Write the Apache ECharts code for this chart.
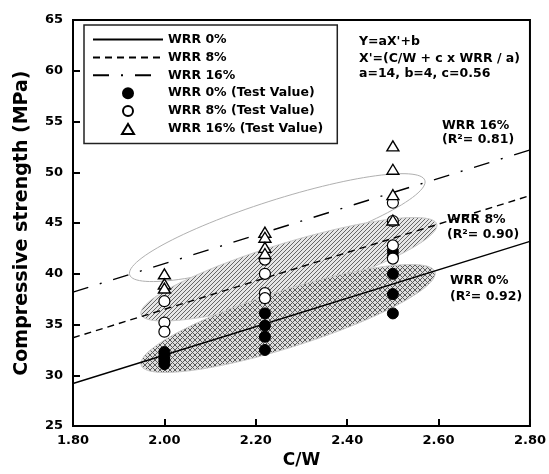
<!DOCTYPE html>
<html>
<head>
<meta charset="utf-8">
<script src="https://cdn.jsdelivr.net/npm/echarts@6/dist/echarts.min.js"></script>
<style>
html,body{margin:0;padding:0;background:#fff;}
#chart{width:549px;height:474px;}
</style>
</head>
<body>
<div id="chart"></div>
<script>
// ---- data ----
const xTicks = [1.8, 2.0, 2.2, 2.4, 2.6, 2.8];
const yTicks = [25, 30, 35, 40, 45, 50, 55, 60, 65];

// regression lines (endpoints at C/W = 1.80 and 2.80)
const lineWRR0  = [[1.8, 29.2], [2.8, 43.2]];
const lineWRR8  = [[1.8, 33.7], [2.8, 47.7]];
const lineWRR16 = [[1.8, 38.2], [2.8, 52.2]];

// test values
const testWRR0 = [
  [2.0, 32.3], [2.0, 31.9], [2.0, 31.5], [2.0, 31.1],
  [2.22, 36.1], [2.22, 34.9], [2.22, 33.8], [2.22, 32.5],
  [2.5, 42.2], [2.5, 41.7], [2.5, 40.0], [2.5, 38.0], [2.5, 36.1]
];
const testWRR8 = [
  [2.0, 37.3], [2.0, 35.2], [2.0, 34.3],
  [2.22, 41.4], [2.22, 40.0], [2.22, 38.1], [2.22, 37.6],
  [2.5, 47.0], [2.5, 45.2], [2.5, 42.8], [2.5, 41.5]
];
const testWRR16 = [
  [2.0, 40.0], [2.0, 39.0], [2.0, 38.6],
  [2.22, 44.1], [2.22, 43.6], [2.22, 42.6], [2.22, 42.0],
  [2.5, 52.6], [2.5, 50.3], [2.5, 47.8], [2.5, 45.3]
];

// scatter-band ellipses: [x1, y1, x2, y2, halfWidth(MPa)]
const ellipseWRR16 = [[1.924, 39.9, 2.570, 49.2, 2.7]];
const ellipseWRR8  = [[1.949, 36.0, 2.596, 44.9, 2.6]];
const ellipseWRR0  = [[1.949, 31.0, 2.592, 40.2, 2.8]];

const seriesNames = ['WRR 0%', 'WRR 8%', 'WRR 16%',
  'WRR 0% (Test Value)', 'WRR 8% (Test Value)', 'WRR 16% (Test Value)'];

// ---- patterns ----
function crossPattern() {
  const s = 5, c = document.createElement('canvas');
  c.width = s; c.height = s;
  const g = c.getContext('2d');
  g.fillStyle = '#dedede'; g.fillRect(0, 0, s, s);
  g.strokeStyle = '#5a5a5a'; g.lineWidth = 1;
  g.beginPath();
  g.moveTo(-1, -1); g.lineTo(s + 1, s + 1);
  g.moveTo(-1, s + 1); g.lineTo(s + 1, -1);
  g.stroke();
  return c;
}
function hatchPattern() {
  const s = 4, c = document.createElement('canvas');
  c.width = s; c.height = s;
  const g = c.getContext('2d');
  g.fillStyle = '#e6e6e6'; g.fillRect(0, 0, s, s);
  g.strokeStyle = '#666'; g.lineWidth = 1;
  g.beginPath();
  g.moveTo(-1, s + 1); g.lineTo(s + 1, -1);
  g.moveTo(-1, 1); g.lineTo(1, -1);
  g.moveTo(s - 1, s + 1); g.lineTo(s + 1, s - 1);
  g.stroke();
  return c;
}

function ellipseRenderer(fill, stroke) {
  return function (params, api) {
    const p1 = api.coord([api.value(0), api.value(1)]);
    const p2 = api.coord([api.value(2), api.value(3)]);
    const hw = api.size([0, api.value(4)])[1];
    const cx = (p1[0] + p2[0]) / 2, cy = (p1[1] + p2[1]) / 2;
    const dx = p2[0] - p1[0], dy = p2[1] - p1[1];
    const a = Math.hypot(dx, dy) / 2, th = Math.atan2(dy, dx);
    const pts = [];
    for (let i = 0; i < 120; i++) {
      const t = i / 120 * Math.PI * 2;
      const ex = a * Math.cos(t), ey = hw * Math.sin(t);
      pts.push([cx + ex * Math.cos(th) - ey * Math.sin(th),
                cy + ex * Math.sin(th) + ey * Math.cos(th)]);
    }
    return {
      type: 'polygon',
      shape: { points: pts },
      style: { fill: fill, stroke: stroke, lineWidth: 1 }
    };
  };
}

const FONT = 'DejaVu Sans';
const TRI = 'path://M0,10L6,0L12,10Z';
const chart = echarts.init(document.getElementById('chart'), null, { renderer: 'canvas' });

const annots = [
  ['Y=aX\'+b', 359, 43],
  ['X\'=(C/W + c x WRR / a)', 359, 60],
  ['a=14, b=4, c=0.56', 359, 75],
  ['WRR 16%', 442, 127],
  ['(R\u00B2= 0.81)', 442, 141],
  ['WRR 8%', 447, 221],
  ['(R\u00B2= 0.90)', 447, 236],
  ['WRR 0%', 450, 282],
  ['(R\u00B2= 0.92)', 450, 298]
];

const option = {
  animation: false,
  backgroundColor: '#fff',
  grid: { left: 73, right: 15, top: 20, bottom: 42, show: true, borderColor: '#000', borderWidth: 2 },
  legend: {
    orient: 'vertical', left: 84, top: 25,
    data: seriesNames.map((n, i) => i < 3
      ? { name: n, itemStyle: { opacity: 0 } }
      : { name: n }),
    itemWidth: 70, itemHeight: 10, itemGap: 4.9,
    symbolKeepAspect: true,
    padding: [8, 14, 8, 8],
    borderColor: '#222', borderWidth: 1.5,
    textStyle: { fontFamily: FONT, fontWeight: 'bold', fontSize: 12.5, color: '#000' },
    selectedMode: false
  },
  xAxis: {
    type: 'value', min: 1.8, max: 2.8, interval: 0.2,
    name: 'C/W', nameLocation: 'middle', nameGap: 24,
    nameTextStyle: { fontFamily: FONT, fontWeight: 'bold', fontSize: 17, color: '#000' },
    axisLine: { lineStyle: { color: '#000', width: 2 } },
    axisTick: { inside: true, length: 7, lineStyle: { color: '#000', width: 2 } },
    axisLabel: {
      fontFamily: FONT, fontWeight: 'bold', fontSize: 13, color: '#000', margin: 8,
      formatter: v => xTicks.some(t => Math.abs(t - v) < 1e-6) ? v.toFixed(2) : ''
    },
    splitLine: { show: false }
  },
  yAxis: {
    type: 'value', min: 25, max: 65, interval: 5,
    name: 'Compressive strength (MPa)', nameLocation: 'middle', nameGap: 41,
    nameTextStyle: { fontFamily: FONT, fontWeight: 'bold', fontSize: 19, color: '#000' },
    axisLine: { lineStyle: { color: '#000', width: 2 } },
    axisTick: { inside: true, length: 7, lineStyle: { color: '#000', width: 2 } },
    axisLabel: {
      fontFamily: FONT, fontWeight: 'bold', fontSize: 13, color: '#000', margin: 10,
      formatter: v => yTicks.includes(v) ? String(v) : ''
    },
    splitLine: { show: false }
  },
  graphic: annots.map(a => ({
    type: 'text', left: a[1], top: a[2] - 8, z: 100,
    style: { text: a[0], fontFamily: FONT, fontWeight: 'bold', fontSize: 12.5, fill: '#000' }
  })),
  series: [
    { type: 'custom', name: 'e16', data: ellipseWRR16, z: 1, silent: true,
      encode: { x: [0, 2], y: [1, 3] }, renderItem: ellipseRenderer('#fff', '#b0b0b0') },
    { type: 'custom', name: 'e8', data: ellipseWRR8, z: 1, silent: true,
      encode: { x: [0, 2], y: [1, 3] }, renderItem: ellipseRenderer({ image: hatchPattern(), repeat: 'repeat' }, '#c8c8c8') },
    { type: 'custom', name: 'e0', data: ellipseWRR0, z: 1, silent: true,
      encode: { x: [0, 2], y: [1, 3] }, renderItem: ellipseRenderer({ image: crossPattern(), repeat: 'repeat' }, '#c8c8c8') },
    { type: 'line', name: seriesNames[0], data: lineWRR0, symbol: 'none', z: 3,
      lineStyle: { color: '#000', width: 1.4, type: 'solid' }, itemStyle: { color: '#000' } },
    { type: 'line', name: seriesNames[1], data: lineWRR8, symbol: 'none', z: 3,
      lineStyle: { color: '#000', width: 1.4, type: [7, 5] }, itemStyle: { color: '#000' } },
    { type: 'line', name: seriesNames[2], data: lineWRR16, symbol: 'none', z: 3,
      lineStyle: { color: '#000', width: 1.4, type: [16, 12, 2, 12] }, itemStyle: { color: '#000' } },
    { type: 'scatter', name: seriesNames[3], data: testWRR0, symbol: 'circle', symbolSize: 11, z: 5,
      itemStyle: { color: '#000', borderColor: '#000', borderWidth: 1, opacity: 1 } },
    { type: 'scatter', name: seriesNames[4], data: testWRR8, symbol: 'circle', symbolSize: 11, z: 5,
      itemStyle: { color: '#fff', borderColor: '#000', borderWidth: 1.2, opacity: 1 } },
    { type: 'scatter', name: seriesNames[5], data: testWRR16, symbol: TRI, symbolSize: 12, symbolKeepAspect: true, z: 5,
      itemStyle: { color: '#fff', borderColor: '#000', borderWidth: 1.4, opacity: 1 } }
  ]
};
chart.setOption(option);
</script>
</body>
</html>
